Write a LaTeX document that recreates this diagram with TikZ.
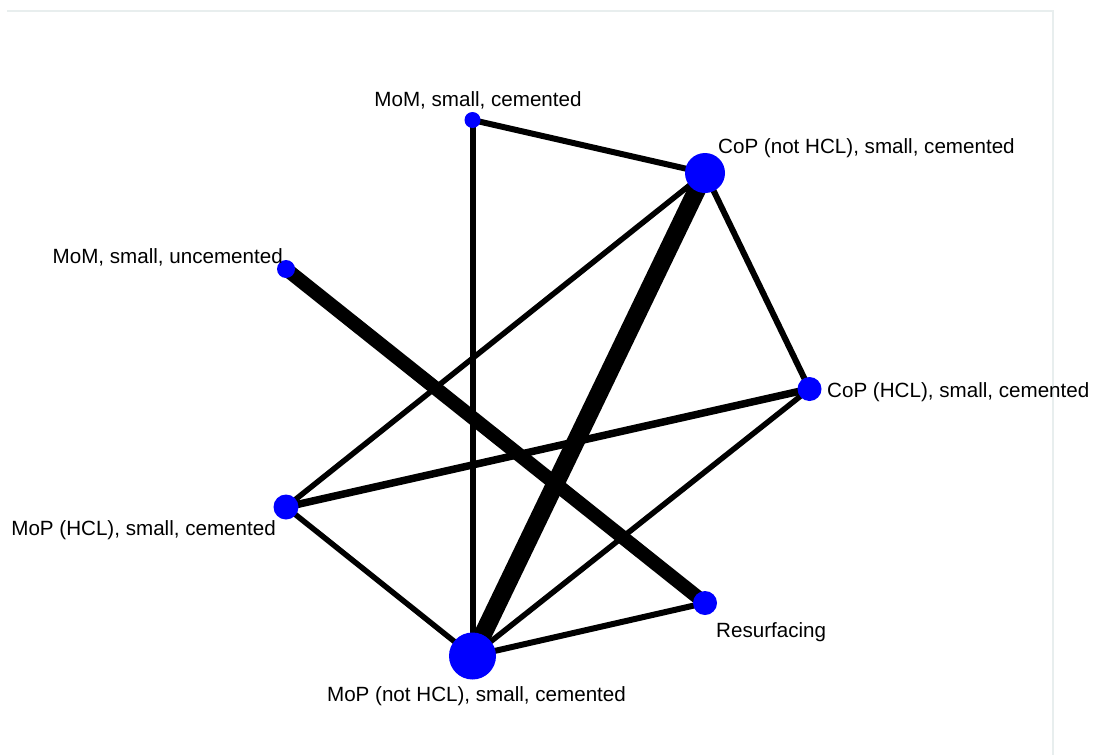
\documentclass[tikz,border=0pt]{standalone}
\usepackage{fontspec}
\setmainfont{Liberation Sans}
\usetikzlibrary{backgrounds}
\definecolor{framegray}{HTML}{E8EEEE}
\tikzset{
  trt/.style={circle, fill=blue, inner sep=0pt},
  lbl/.style={inner sep=0pt, font=\fontsize{20.6}{24}\selectfont},
  link/.style={line width=6pt},
}
\begin{document}
\begin{tikzpicture}[x=1pt, y=-1pt]
      \useasboundingbox (0,0) rectangle (1096,755);
      \draw[framegray, line width=1.2pt] (7,11) -- (1053,11) -- (1053,755);
      \draw
        (472.5,120) node[trt, minimum size=16pt] (momc){}
        (705,173) node[trt, minimum size=40pt] (copn){}
        (286,269) node[trt, minimum size=18pt] (momu){}
        (809.5,389) node[trt, minimum size=24pt] (coph){}
        (286,507) node[trt, minimum size=25pt] (moph){}
        (705,603) node[trt, minimum size=24pt] (resurf){}
        (472.5,656) node[trt, minimum size=47pt] (mopn){};
      \draw
        (478,106) node[lbl, anchor=base] (momc-l){MoM, small, cemented}
        (718,153) node[lbl, anchor=base west] (copn-l){CoP (not HCL), small, cemented}
        (283,263) node[lbl, anchor=base east] (momu-l){MoM, small, uncemented}
        (827,397) node[lbl, anchor=base west] (coph-l){CoP (HCL), small, cemented}
        (276,535) node[lbl, anchor=base east] (moph-l){MoP (HCL), small, cemented}
        (716,637) node[lbl, anchor=base west] (resurf-l){Resurfacing}
        (476.5,701.5) node[lbl, anchor=base] (mopn-l){MoP (not HCL), small, cemented};
      \begin{scope}[on background layer]
      \begin{scope}[link]
        \draw (momc.center) to (copn.center);
        \draw (momc.center) to (mopn.center);
        \draw[line width=5.5pt] (copn.center) to (moph.center);
        \draw[line width=18pt] (copn.center) to (mopn.center);
        \draw (copn.center) to (coph.center);
        \draw[line width=14pt] (momu.center) to (resurf.center);
        \draw[line width=7.5pt] (coph.center) to (moph.center);
        \draw[line width=5.5pt] (coph.center) to (mopn.center);
        \draw[line width=5.5pt] (moph.center) to (mopn.center);
        \draw (resurf.center) to (mopn.center);
      \end{scope}
      \end{scope}
    \end{tikzpicture}
\end{document}
